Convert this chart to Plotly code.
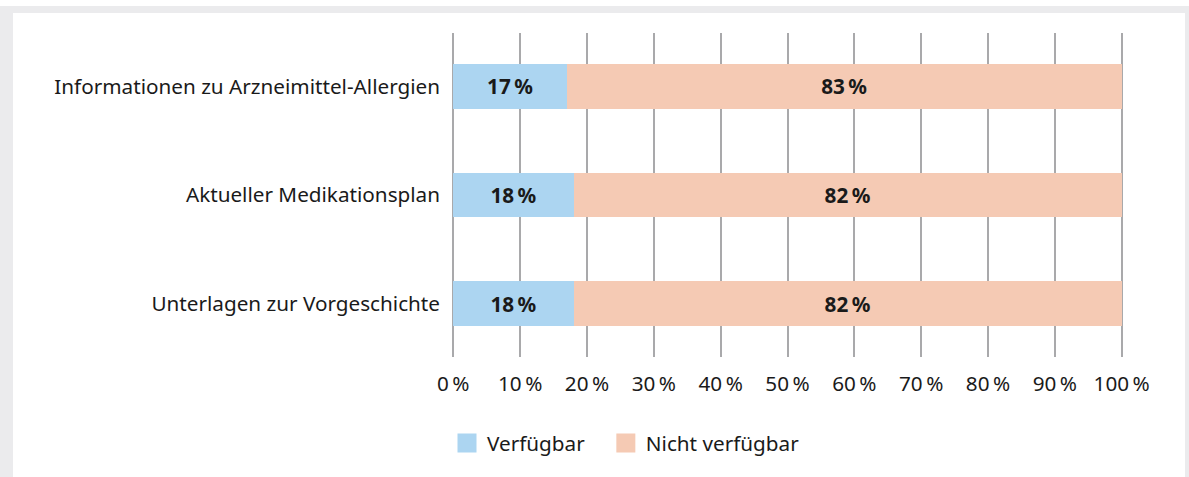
import plotly.graph_objects as go

categories = ["Unterlagen zur Vorgeschichte", "Aktueller Medikationsplan", "Informationen zu Arzneimittel-Allergien"]
verfuegbar = [18, 18, 17]
nicht_verfuegbar = [82, 82, 83]
series_names = ["Verfügbar", "Nicht verfügbar"]
series_colors = ["#acd5f1", "#f5cab4"]
tick_vals = [0, 10, 20, 30, 40, 50, 60, 70, 80, 90, 100]
tick_text = [f"{v}\u2009%" for v in tick_vals]

W, H = 1189, 477
L, R, T, B = 452, 66, 33, 120
pw, ph = W - L - R, H - T - B

def px(x):
    return (x - L) / pw

def py(y):
    return (H - B - y) / ph

FONT = "Noto Sans"
FS = 20.7
TXT = "#1a1a1a"

fig = go.Figure()
for vals, name, col in [(verfuegbar, series_names[0], series_colors[0]),
                        (nicht_verfuegbar, series_names[1], series_colors[1])]:
    fig.add_trace(go.Bar(
        y=categories, x=vals, name=name, orientation="h", showlegend=False,
        marker=dict(color=col, line=dict(width=0)),
        text=[f"{v}\u2009%" for v in vals], textposition="inside",
        insidetextanchor="middle", textangle=0,
        textfont=dict(family=FONT, size=FS, color=TXT, weight="bold"),
    ))
legend_pad = ["\u00a0\u00a0\u00a0", ""]
for name, col, pad in zip(series_names, series_colors, legend_pad):
    fig.add_trace(go.Scatter(
        x=[None], y=[None], mode="markers", name=name + pad,
        marker=dict(symbol="square", size=16, color=col, line=dict(width=3, color=col)),
    ))

shapes = [
    dict(type="rect", xref="paper", yref="paper", x0=px(0), x1=px(W), y0=py(6), y1=py(H + 5),
         fillcolor="#ebebed", line=dict(width=0), layer="below"),
    dict(type="rect", xref="paper", yref="paper", x0=px(13), x1=px(1185), y0=py(13), y1=py(H + 5),
         fillcolor="#ffffff", line=dict(width=0), layer="below"),
]

fig.update_layout(
    width=W, height=H,
    margin=dict(l=L, r=R, t=T, b=B, pad=0),
    barmode="stack", bargap=0.59,
    paper_bgcolor="#ffffff", plot_bgcolor="rgba(0,0,0,0)",
    font=dict(family=FONT, size=FS, color=TXT),
    shapes=shapes,
    showlegend=True,
    legend=dict(orientation="h", x=px(447), y=py(443), xanchor="left", yanchor="middle",
                font=dict(family=FONT, size=FS, color=TXT), traceorder="normal",
                itemsizing="trace", bgcolor="rgba(0,0,0,0)"),
    xaxis=dict(range=[-0.2, 100.2], tickvals=tick_vals, ticktext=tick_text,
               showgrid=True, gridcolor="#a9a9ab", gridwidth=2,
               zeroline=True, zerolinecolor="#a9a9ab", zerolinewidth=2,
               showline=False, ticks="", ticklabelstandoff=12,
               tickfont=dict(family=FONT, size=FS, color=TXT), fixedrange=True),
    yaxis=dict(range=[-0.49, 2.49], showgrid=False, zeroline=False, showline=False,
               ticks="", ticklabelstandoff=11,
               tickfont=dict(family=FONT, size=FS, color=TXT), fixedrange=True),
)

fig.write_html("out.html", config={"displayModeBar": False},
               post_script="document.body.style.margin='0';")
